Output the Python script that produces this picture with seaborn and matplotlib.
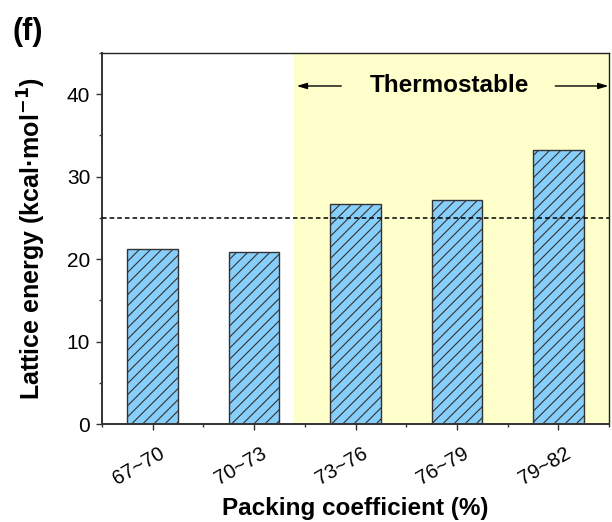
import matplotlib
matplotlib.use("Agg")
import matplotlib.pyplot as plt
from matplotlib.ticker import FixedLocator, MultipleLocator
from matplotlib.transforms import ScaledTranslation
import seaborn as sns
import pandas as pd

# Lattice energy grouped by packing coefficient range
packing_ranges = ["67~70", "70~73", "73~76", "76~79", "79~82"]
lattice_energy = [21.2, 20.9, 26.7, 27.2, 33.2]
threshold = 25.0
stable_from = 1.39  # start of the thermostable region (category units)

sns.set_theme(style="ticks")
plt.rcParams["font.family"] = ["Liberation Sans", "DejaVu Sans"]
plt.rcParams["hatch.linewidth"] = 0.8
plt.rcParams["hatch.color"] = "#2b2b2b"
for key in ["text.color", "axes.labelcolor", "xtick.labelcolor", "ytick.labelcolor"]:
    plt.rcParams[key] = "black"

df = pd.DataFrame({"range": packing_ranges, "energy": lattice_energy})

fig = plt.figure(figsize=(6.12, 5.22), dpi=100)
ax = fig.add_axes([102 / 612, 1 - 424 / 522, (609 - 102) / 612, (424 - 53) / 522])
ax.set_facecolor("white")

# shaded thermostable region
ax.axvspan(stable_from, 4.5, color="#FFFFCC", zorder=0, lw=0)

sns.barplot(data=df, x="range", y="energy", ax=ax, color="#87CEFA",
            saturation=1, width=0.5, edgecolor="#333333", linewidth=1.0,
            hatch="///", zorder=2)

ax.axhline(threshold, color="black", lw=1.1, ls=(0, (3, 2)), zorder=3)

ax.set_xlim(-0.5, 4.5)
ax.set_ylim(0, 45)

# arrows + label marking the thermostable range
ay = 41
ax.text(2.93, ay, "Thermostable", ha="center", va="center",
        fontsize=17.5, fontweight="bold", zorder=4)
arrow_kw = dict(arrowstyle="-|>,head_length=0.6,head_width=0.18",
                color="black", lw=1.0, mutation_scale=10, shrinkA=0, shrinkB=0)
ax.annotate("", xy=(1.42, ay), xytext=(1.86, ay), arrowprops=arrow_kw, zorder=4)
ax.annotate("", xy=(4.495, ay), xytext=(3.97, ay), arrowprops=arrow_kw, zorder=4)

# ticks
ax.yaxis.set_major_locator(FixedLocator([0, 10, 20, 30, 40]))
ax.yaxis.set_minor_locator(MultipleLocator(5))
ax.xaxis.set_minor_locator(FixedLocator([-0.5, 0.5, 1.5, 2.5, 3.5, 4.5]))
ax.tick_params(axis="both", which="major", direction="out", length=4.5,
               width=1.0, color="#333333", top=False, right=False)
ax.tick_params(axis="both", which="minor", direction="out", length=2.3,
               width=1.0, color="#333333", top=False, right=False)
ax.tick_params(axis="y", which="major", labelsize=15, pad=4)
ax.tick_params(axis="x", which="major", labelsize=14.5, pad=10)

for lab in ax.get_xticklabels():
    lab.set_rotation(30)
    lab.set_ha("right")
    lab.set_va("top")
    lab.set_rotation_mode("anchor")
    lab.set_transform(lab.get_transform() +
                      ScaledTranslation(0.06, 0, fig.dpi_scale_trans))

for side in ["left", "bottom"]:
    ax.spines[side].set_linewidth(1.4)
    ax.spines[side].set_color("#333333")
for side in ["top", "right"]:
    ax.spines[side].set_visible(True)
    ax.spines[side].set_linewidth(1.0)
    ax.spines[side].set_color("#222222")

ax.set_xlabel("Packing coefficient (%)", fontsize=17.5, fontweight="bold")
ax.set_ylabel("Lattice energy (kcal·mol$^{\\mathbf{-1}}$)", fontsize=18,
              fontweight="bold")
ax.xaxis.set_label_coords(0.5, -0.197)
ax.yaxis.set_label_coords(-0.106, 0.5)

fig.text(12 / 612, 1 - 40 / 522, "(f)", fontsize=22, fontweight="bold",
         ha="left", va="baseline")

fig.savefig("out.png", dpi=100, facecolor="white")
